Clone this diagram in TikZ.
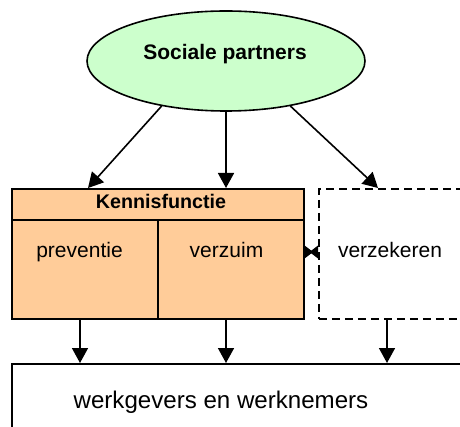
\documentclass[tikz,border=0pt]{standalone}
\usepackage{fontspec}
\setmainfont{Liberation Sans}
\usetikzlibrary{shapes.geometric,arrows.meta}
\definecolor{lgreen}{RGB}{204,255,204}
\definecolor{lorange}{RGB}{255,204,153}
\begin{document}
\begin{tikzpicture}[x=1pt,y=-1pt,
  line width=1.6pt,
  box/.style={draw,rectangle,inner sep=0pt,anchor=north west},
  arr/.style={-{Triangle[length=15pt,width=16pt]}},
  txt/.style={inner sep=0pt,anchor=base}
]
\useasboundingbox (0,0) rectangle (460,427);
\clip (0,0) rectangle (460,427);
% ellipse
\node[draw,ellipse,fill=lgreen,minimum width=278pt,minimum height=100pt,inner sep=0pt] (sp) at (226,61) {};
\node[txt,font=\fontsize{21}{24}\selectfont\bfseries] (spt) at (225,60) {Sociale partners};
% Kennisfunctie box
\node[box,fill=lorange,minimum width=292pt,minimum height=31pt] (kf) at (11,188) {};
\node[box,fill=lorange,minimum width=146pt,minimum height=99pt] (prev) at (11,219) {};
\node[box,fill=lorange,minimum width=146pt,minimum height=99pt] (verz) at (157,219) {};
\node[txt,font=\fontsize{19.7}{22}\selectfont\bfseries] (kft) at (161,209) {Kennisfunctie};
\node[txt,font=\fontsize{21}{24}\selectfont] (prevt) at (79.5,258) {preventie};
\node[txt,font=\fontsize{21}{24}\selectfont] (verzt) at (226.5,258) {verzuim};
% verzekeren
\node[box,dashed,dash pattern=on 8pt off 5pt,minimum width=170pt,minimum height=130pt] (vzk) at (318,188) {};
\node[txt,font=\fontsize{21}{24}\selectfont] (vzkt) at (390,258) {verzekeren};
% bottom box
\node[box,minimum width=480pt,minimum height=90pt] (wgw) at (11,363) {};
\node[txt,font=\fontsize{24.1}{28}\selectfont] (wgwt) at (221,408) {werkgevers en werknemers};
% coordinates
\coordinate (t1) at (88,188);
\coordinate (t2) at (226,188);
\coordinate (t3) at (378,188);
\coordinate (b1) at (80,363);
\coordinate (b2) at (226,363);
\coordinate (b3) at (387,363);
% arrows from ellipse
\draw[arr] (sp.-145) -- (t1);
\draw[arr] (sp.south) -- (t2);
\draw[arr] (sp.-35) -- (t3);
% down arrows
\draw[arr] (prev.south -| b1) -- (b1);
\draw[arr] (verz.south -| b2) -- (b2);
\draw[arr] (vzk.south -| b3) -- (b3);
% double connector between boxes
\coordinate (ca) at (verz.east |- 0,252);
\coordinate (cb) at (vzk.west |- 0,252);
\draw (ca) -- (cb);
\fill (ca) ++(0,-6.5) -- ++(8.5,6.5) -- ++(-8.5,6.5) -- cycle;
\fill (cb) ++(0,-6.5) -- ++(-8.5,6.5) -- ++(8.5,6.5) -- cycle;
\end{tikzpicture}
\end{document}
